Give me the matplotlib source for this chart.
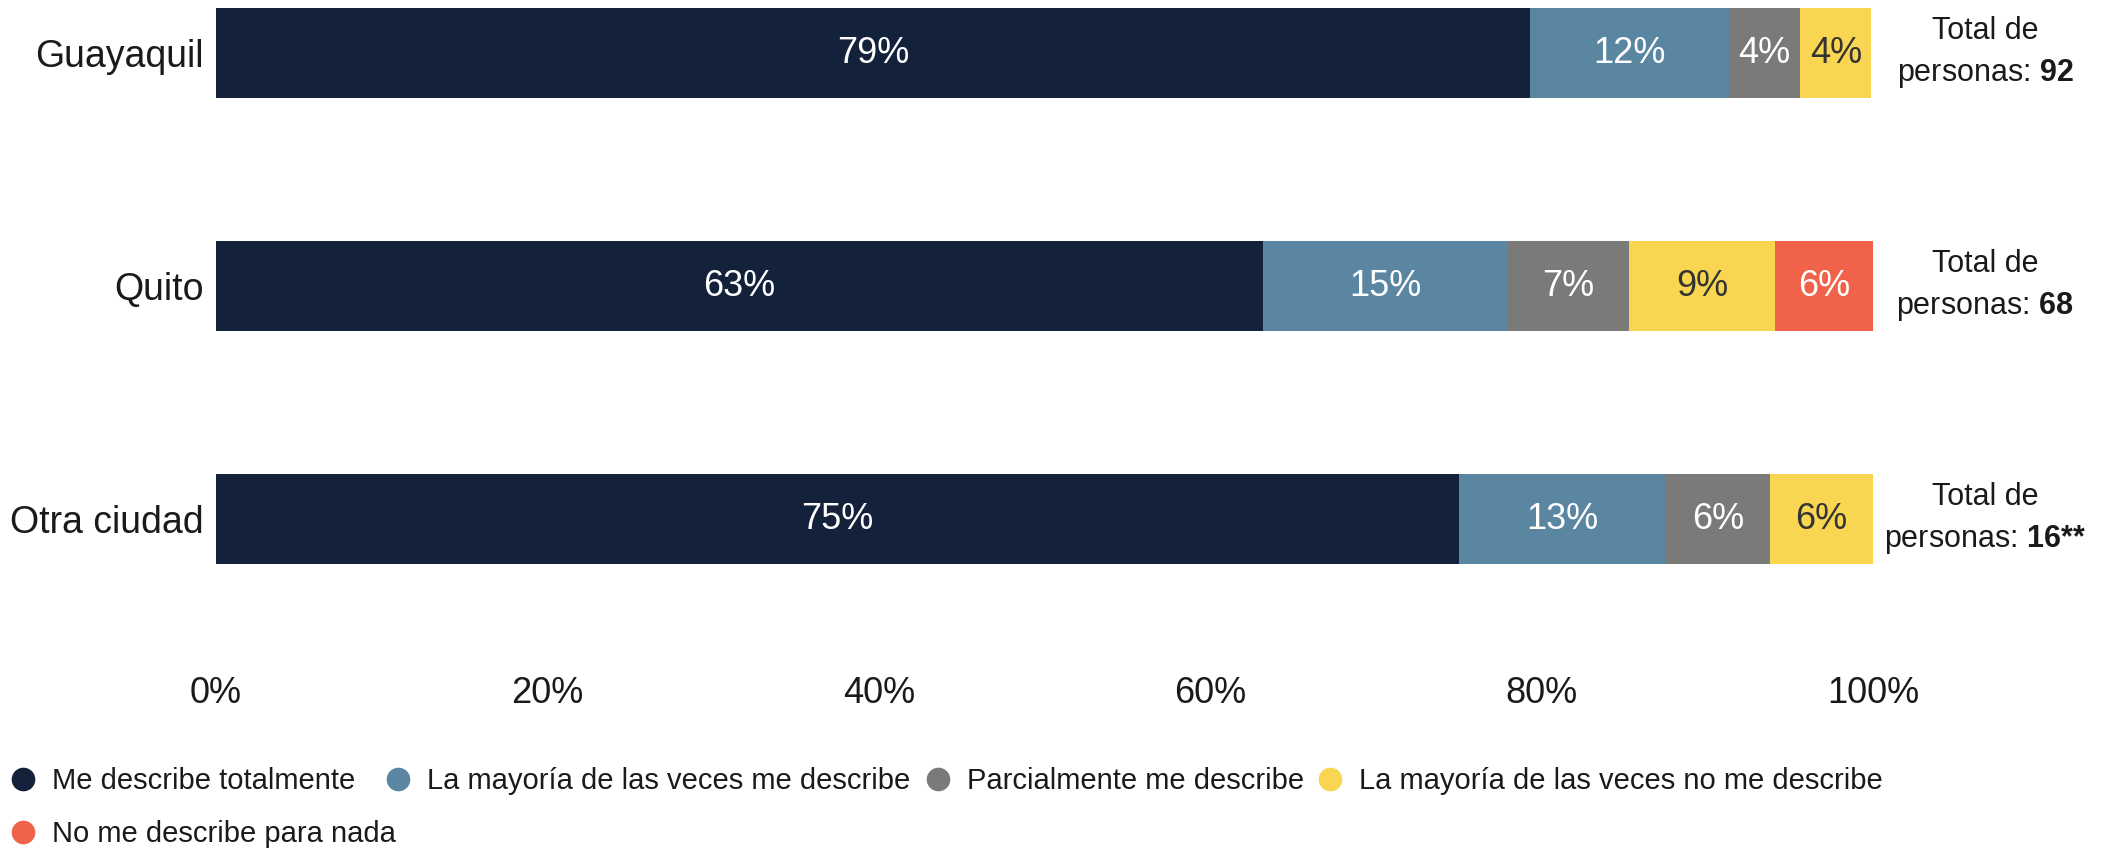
import matplotlib
matplotlib.use("Agg")
import matplotlib.pyplot as plt
from matplotlib.lines import Line2D
import matplotlib.transforms as mtransforms

plt.rcParams['font.family'] = ['Liberation Sans', 'DejaVu Sans']
plt.rcParams['mathtext.fontset'] = 'custom'
plt.rcParams['mathtext.rm'] = 'Liberation Sans'
plt.rcParams['mathtext.bf'] = 'Liberation Sans:bold'

# ---- data ----
cities = ["Guayaquil", "Quito", "Otra ciudad"]
categories = ["Me describe totalmente",
              "La mayoría de las veces me describe",
              "Parcialmente me describe",
              "La mayoría de las veces no me describe",
              "No me describe para nada"]
totales = ["92", "68", "16**"]
# percentages per category (rows = cities)
values = [
    [79.3, 12.0, 4.3, 4.3, 0.0],
    [63.2, 14.7, 7.4, 8.8, 5.9],
    [75.0, 12.5, 6.3, 6.2, 0.0],
]
labels = [
    ["79%", "12%", "4%", "4%", ""],
    ["63%", "15%", "7%", "9%", "6%"],
    ["75%", "13%", "6%", "6%", ""],
]
xticks = [0, 20, 40, 60, 80, 100]
xticklabels = ["0%", "20%", "40%", "60%", "80%", "100%"]

# ---- style ----
colors = ["#13223a", "#5a86a2", "#7a7a78", "#f8d651", "#f0624a"]
text_colors = ["white", "white", "white", "#333333", "white"]

W, H = 2119, 849
fig = plt.figure(figsize=(W / 100, H / 100), dpi=100)
ax_left, ax_right = 216, 1873
ax_top, ax_bot = 0, 640
ax = fig.add_axes([ax_left / W, 1 - ax_bot / H, (ax_right - ax_left) / W, (ax_bot - ax_top) / H])

ypos = list(range(len(cities)))
bar_h = 0.386
for i, city in enumerate(cities):
    left = 0
    for j, v in enumerate(values[i]):
        if v <= 0:
            continue
        ax.barh(ypos[i], v, left=left, height=bar_h, color=colors[j], edgecolor='none')
        if labels[i][j]:
            ax.text(left + v / 2, ypos[i], labels[i][j], ha='center', va='center',
                    color=text_colors[j], fontsize=26)
        left += v

ax.set_xlim(0, 100)
ax.set_ylim(2.519, -0.2275)
ax.set_yticks(ypos)
ax.set_yticklabels(cities, fontsize=27, color="#1a1a1a")
ax.set_xticks(xticks)
ax.set_xticklabels(xticklabels, fontsize=26, color="#1a1a1a")
ax.tick_params(axis='both', length=0)
ax.tick_params(axis='y', pad=9)
ax.tick_params(axis='x', pad=26)
for s in ax.spines.values():
    s.set_visible(False)

trans = mtransforms.blended_transform_factory(ax.transAxes, ax.transData)
for i, t in enumerate(totales):
    ax.text(1.0676, ypos[i], "Total de\npersonas: $\\mathbf{" + t.replace("*", "{*}") + "}$",
            transform=trans, ha='center', va='center', fontsize=22,
            color="#1a1a1a", linespacing=1.45)

# ---- legend ----
leg_items = [(0, 24, 781), (1, 399, 781), (2, 939, 781), (3, 1331, 781), (4, 24, 834)]
for j, xm, ym in leg_items:
    h = Line2D([], [], marker='o', linestyle='', markersize=16, color=colors[j])
    fig.legend(handles=[h], labels=[categories[j]], loc='center left',
               bbox_to_anchor=(xm / W - 0.006, 1 - ym / H), frameon=False,
               fontsize=21, handlelength=0.8, handletextpad=0.6,
               borderpad=0, borderaxespad=0, labelcolor="#1a1a1a")

fig.savefig("out.png", dpi=100, facecolor="white")
